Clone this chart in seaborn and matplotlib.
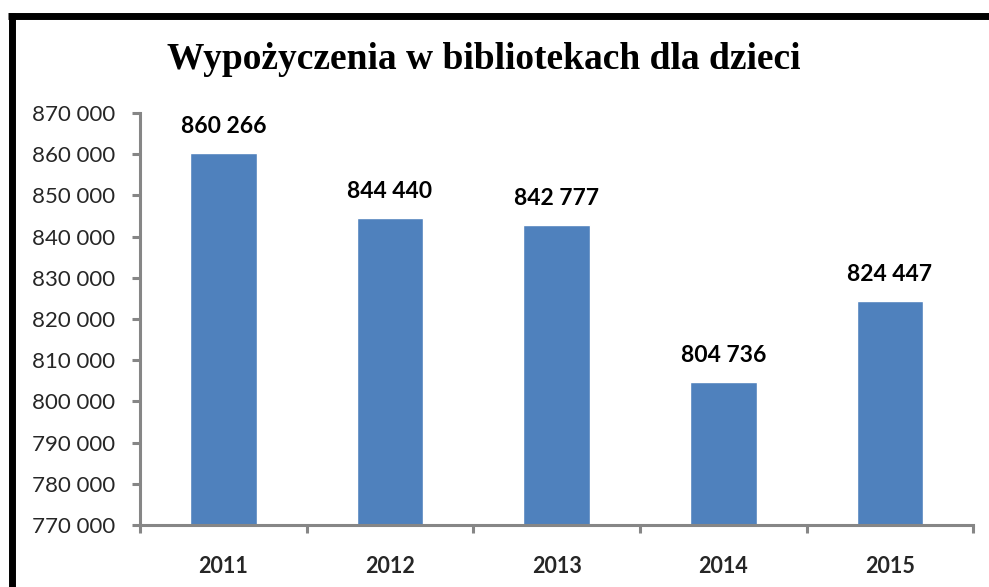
import pandas as pd
import seaborn as sns
import matplotlib.pyplot as plt
from matplotlib.lines import Line2D
from matplotlib.ticker import FuncFormatter, MultipleLocator, FixedLocator

# Dane z wykresu
years = ["2011", "2012", "2013", "2014", "2015"]
loans = [860266, 844440, 842777, 804736, 824447]

df = pd.DataFrame({"rok": years, "wypozyczenia": loans})

sns.set_theme(style="white")
plt.rcParams["font.family"] = ["Lato", "DejaVu Sans"]

fig = plt.figure(figsize=(9.89, 5.87), dpi=100)
ax = fig.add_axes([0.1416, 0.1056, 0.8424, 0.702])

sns.barplot(data=df, x="rok", y="wypozyczenia", color="#4F81BD",
            saturation=1, width=0.4, ax=ax)

ax.set_ylim(770000, 870000)
ax.set_xlim(-0.5, 4.5)
ax.yaxis.set_major_locator(MultipleLocator(10000))
ax.yaxis.set_major_formatter(FuncFormatter(lambda v, p: f"{int(v):,}".replace(",", " ")))
ax.set_xlabel("")
ax.set_ylabel("")

# kreski na granicach kategorii
ax.xaxis.set_minor_locator(FixedLocator([i - 0.5 for i in range(len(years) + 1)]))
ax.tick_params(axis="x", which="major", bottom=True, length=0, pad=22, labelsize=15.5)
ax.tick_params(axis="x", which="minor", bottom=True, length=6, width=2.2,
               color="#868686", direction="out")
ax.tick_params(axis="y", which="major", left=True, length=6, width=2.2, color="#868686",
               direction="out", pad=12, labelsize=16)
for lab in ax.get_xticklabels():
    lab.set_fontweight("bold")

for side in ["top", "right"]:
    ax.spines[side].set_visible(False)
for side in ["left", "bottom"]:
    ax.spines[side].set_color("#868686")
    ax.spines[side].set_linewidth(2.2)

# etykiety wartosci
for i, v in enumerate(loans):
    ax.annotate(f"{v:,}".replace(",", " "), (i, v), xytext=(0, 19),
                textcoords="offset points", ha="center", va="center",
                fontsize=16.5, fontweight="bold", color="black")

fig.text(0.489, 0.898, "Wypożyczenia w bibliotekach dla dzieci",
         ha="center", va="center", fontsize=27, fontweight="bold",
         family="Liberation Serif", color="black")

# czarna ramka (gora i lewa strona)
fig.add_artist(Line2D([8 / 989, 1.0], [1 - 16 / 587, 1 - 16 / 587],
                      transform=fig.transFigure, color="black", lw=5,
                      solid_capstyle="butt"))
fig.add_artist(Line2D([11.5 / 989, 11.5 / 989], [1 - 13 / 587, 0],
                      transform=fig.transFigure, color="black", lw=5,
                      solid_capstyle="butt"))

fig.savefig("out.png", dpi=100, facecolor="white")
